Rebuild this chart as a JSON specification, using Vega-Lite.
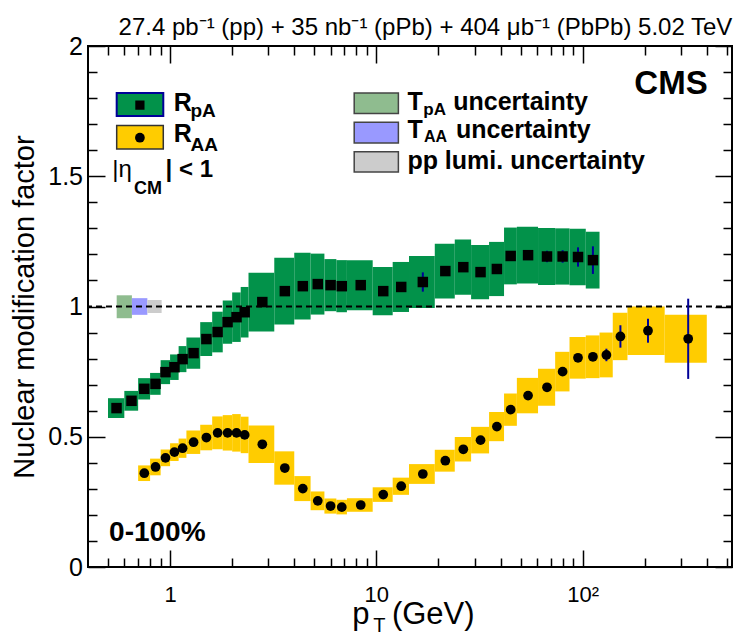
{
  "$schema": "https://vega.github.io/schema/vega-lite/v6.json",
  "width": 644,
  "height": 521,
  "autosize": {"type": "none"},
  "padding": {"left": 88, "top": 46, "right": 5, "bottom": 70},
  "background": "white",
  "config": {"view": {"stroke": "black", "strokeWidth": 2}, "font": "Liberation Sans"},
  "data": {"values": [{}]},
  "datasets": {
    "rpa": [
      {"ptLow": 0.5, "ptHigh": 0.6, "pt": 0.55, "R": 0.610, "sysLow": 0.572, "sysHigh": 0.648, "statLow": 0.606, "statHigh": 0.614},
      {"ptLow": 0.6, "ptHigh": 0.7, "pt": 0.65, "R": 0.638, "sysLow": 0.600, "sysHigh": 0.676, "statLow": 0.634, "statHigh": 0.642},
      {"ptLow": 0.7, "ptHigh": 0.8, "pt": 0.75, "R": 0.684, "sysLow": 0.643, "sysHigh": 0.725, "statLow": 0.680, "statHigh": 0.688},
      {"ptLow": 0.8, "ptHigh": 0.9, "pt": 0.85, "R": 0.703, "sysLow": 0.661, "sysHigh": 0.745, "statLow": 0.699, "statHigh": 0.707},
      {"ptLow": 0.9, "ptHigh": 1.0, "pt": 0.95, "R": 0.748, "sysLow": 0.702, "sysHigh": 0.794, "statLow": 0.744, "statHigh": 0.752},
      {"ptLow": 1.0, "ptHigh": 1.1, "pt": 1.05, "R": 0.767, "sysLow": 0.718, "sysHigh": 0.816, "statLow": 0.763, "statHigh": 0.771},
      {"ptLow": 1.1, "ptHigh": 1.2, "pt": 1.15, "R": 0.798, "sysLow": 0.748, "sysHigh": 0.848, "statLow": 0.794, "statHigh": 0.802},
      {"ptLow": 1.2, "ptHigh": 1.4, "pt": 1.3, "R": 0.821, "sysLow": 0.761, "sysHigh": 0.881, "statLow": 0.817, "statHigh": 0.825},
      {"ptLow": 1.4, "ptHigh": 1.6, "pt": 1.5, "R": 0.875, "sysLow": 0.810, "sysHigh": 0.940, "statLow": 0.871, "statHigh": 0.879},
      {"ptLow": 1.6, "ptHigh": 1.8, "pt": 1.7, "R": 0.902, "sysLow": 0.824, "sysHigh": 0.980, "statLow": 0.898, "statHigh": 0.906},
      {"ptLow": 1.8, "ptHigh": 2.0, "pt": 1.9, "R": 0.940, "sysLow": 0.857, "sysHigh": 1.023, "statLow": 0.936, "statHigh": 0.944},
      {"ptLow": 2.0, "ptHigh": 2.2, "pt": 2.1, "R": 0.959, "sysLow": 0.864, "sysHigh": 1.054, "statLow": 0.955, "statHigh": 0.963},
      {"ptLow": 2.2, "ptHigh": 2.4, "pt": 2.3, "R": 0.978, "sysLow": 0.881, "sysHigh": 1.075, "statLow": 0.974, "statHigh": 0.982},
      {"ptLow": 2.4, "ptHigh": 3.2, "pt": 2.8, "R": 1.017, "sysLow": 0.904, "sysHigh": 1.130, "statLow": 1.013, "statHigh": 1.021},
      {"ptLow": 3.2, "ptHigh": 4.0, "pt": 3.6, "R": 1.059, "sysLow": 0.931, "sysHigh": 1.187, "statLow": 1.054, "statHigh": 1.064},
      {"ptLow": 4.0, "ptHigh": 4.8, "pt": 4.4, "R": 1.078, "sysLow": 0.950, "sysHigh": 1.206, "statLow": 1.073, "statHigh": 1.083},
      {"ptLow": 4.8, "ptHigh": 5.6, "pt": 5.2, "R": 1.086, "sysLow": 0.969, "sysHigh": 1.203, "statLow": 1.081, "statHigh": 1.091},
      {"ptLow": 5.6, "ptHigh": 6.4, "pt": 6.0, "R": 1.082, "sysLow": 0.982, "sysHigh": 1.182, "statLow": 1.077, "statHigh": 1.087},
      {"ptLow": 6.4, "ptHigh": 7.2, "pt": 6.8, "R": 1.078, "sysLow": 0.978, "sysHigh": 1.178, "statLow": 1.073, "statHigh": 1.083},
      {"ptLow": 7.2, "ptHigh": 9.6, "pt": 8.4, "R": 1.082, "sysLow": 0.986, "sysHigh": 1.178, "statLow": 1.077, "statHigh": 1.087},
      {"ptLow": 9.6, "ptHigh": 12.0, "pt": 10.8, "R": 1.059, "sysLow": 0.966, "sysHigh": 1.152, "statLow": 1.053, "statHigh": 1.065},
      {"ptLow": 12.0, "ptHigh": 14.4, "pt": 13.2, "R": 1.075, "sysLow": 0.979, "sysHigh": 1.171, "statLow": 1.067, "statHigh": 1.083},
      {"ptLow": 14.4, "ptHigh": 19.2, "pt": 16.8, "R": 1.094, "sysLow": 0.994, "sysHigh": 1.194, "statLow": 1.057, "statHigh": 1.131},
      {"ptLow": 19.2, "ptHigh": 24.0, "pt": 21.6, "R": 1.136, "sysLow": 1.031, "sysHigh": 1.241, "statLow": 1.128, "statHigh": 1.144},
      {"ptLow": 24.0, "ptHigh": 28.8, "pt": 26.4, "R": 1.151, "sysLow": 1.045, "sysHigh": 1.257, "statLow": 1.143, "statHigh": 1.159},
      {"ptLow": 28.8, "ptHigh": 35.2, "pt": 32.0, "R": 1.132, "sysLow": 1.028, "sysHigh": 1.236, "statLow": 1.124, "statHigh": 1.140},
      {"ptLow": 35.2, "ptHigh": 41.6, "pt": 38.4, "R": 1.144, "sysLow": 1.040, "sysHigh": 1.248, "statLow": 1.136, "statHigh": 1.152},
      {"ptLow": 41.6, "ptHigh": 48.0, "pt": 44.8, "R": 1.194, "sysLow": 1.085, "sysHigh": 1.303, "statLow": 1.186, "statHigh": 1.202},
      {"ptLow": 48.0, "ptHigh": 60.8, "pt": 54.4, "R": 1.197, "sysLow": 1.088, "sysHigh": 1.306, "statLow": 1.187, "statHigh": 1.207},
      {"ptLow": 60.8, "ptHigh": 73.6, "pt": 67.2, "R": 1.192, "sysLow": 1.083, "sysHigh": 1.301, "statLow": 1.170, "statHigh": 1.214},
      {"ptLow": 73.6, "ptHigh": 86.4, "pt": 80.0, "R": 1.192, "sysLow": 1.084, "sysHigh": 1.300, "statLow": 1.168, "statHigh": 1.216},
      {"ptLow": 86.4, "ptHigh": 103.6, "pt": 95.0, "R": 1.190, "sysLow": 1.082, "sysHigh": 1.298, "statLow": 1.153, "statHigh": 1.227},
      {"ptLow": 103.6, "ptHigh": 120.8, "pt": 112.2, "R": 1.178, "sysLow": 1.069, "sysHigh": 1.287, "statLow": 1.125, "statHigh": 1.231}
    ],
    "raa": [
      {"ptLow": 0.7, "ptHigh": 0.8, "pt": 0.75, "R": 0.360, "sysLow": 0.330, "sysHigh": 0.390, "statLow": 0.356, "statHigh": 0.364},
      {"ptLow": 0.8, "ptHigh": 0.9, "pt": 0.85, "R": 0.384, "sysLow": 0.352, "sysHigh": 0.416, "statLow": 0.380, "statHigh": 0.388},
      {"ptLow": 0.9, "ptHigh": 1.0, "pt": 0.95, "R": 0.419, "sysLow": 0.387, "sysHigh": 0.451, "statLow": 0.415, "statHigh": 0.423},
      {"ptLow": 1.0, "ptHigh": 1.1, "pt": 1.05, "R": 0.441, "sysLow": 0.407, "sysHigh": 0.475, "statLow": 0.437, "statHigh": 0.445},
      {"ptLow": 1.1, "ptHigh": 1.2, "pt": 1.15, "R": 0.456, "sysLow": 0.419, "sysHigh": 0.493, "statLow": 0.452, "statHigh": 0.460},
      {"ptLow": 1.2, "ptHigh": 1.4, "pt": 1.3, "R": 0.479, "sysLow": 0.434, "sysHigh": 0.524, "statLow": 0.475, "statHigh": 0.483},
      {"ptLow": 1.4, "ptHigh": 1.6, "pt": 1.5, "R": 0.497, "sysLow": 0.448, "sysHigh": 0.546, "statLow": 0.493, "statHigh": 0.501},
      {"ptLow": 1.6, "ptHigh": 1.8, "pt": 1.7, "R": 0.515, "sysLow": 0.452, "sysHigh": 0.578, "statLow": 0.511, "statHigh": 0.519},
      {"ptLow": 1.8, "ptHigh": 2.0, "pt": 1.9, "R": 0.515, "sysLow": 0.447, "sysHigh": 0.583, "statLow": 0.511, "statHigh": 0.519},
      {"ptLow": 2.0, "ptHigh": 2.2, "pt": 2.1, "R": 0.515, "sysLow": 0.443, "sysHigh": 0.587, "statLow": 0.511, "statHigh": 0.519},
      {"ptLow": 2.2, "ptHigh": 2.4, "pt": 2.3, "R": 0.507, "sysLow": 0.437, "sysHigh": 0.577, "statLow": 0.503, "statHigh": 0.511},
      {"ptLow": 2.4, "ptHigh": 3.2, "pt": 2.8, "R": 0.471, "sysLow": 0.399, "sysHigh": 0.543, "statLow": 0.467, "statHigh": 0.475},
      {"ptLow": 3.2, "ptHigh": 4.0, "pt": 3.6, "R": 0.380, "sysLow": 0.316, "sysHigh": 0.444, "statLow": 0.376, "statHigh": 0.384},
      {"ptLow": 4.0, "ptHigh": 4.8, "pt": 4.4, "R": 0.301, "sysLow": 0.253, "sysHigh": 0.349, "statLow": 0.297, "statHigh": 0.305},
      {"ptLow": 4.8, "ptHigh": 5.6, "pt": 5.2, "R": 0.254, "sysLow": 0.218, "sysHigh": 0.290, "statLow": 0.250, "statHigh": 0.258},
      {"ptLow": 5.6, "ptHigh": 6.4, "pt": 6.0, "R": 0.234, "sysLow": 0.205, "sysHigh": 0.263, "statLow": 0.230, "statHigh": 0.238},
      {"ptLow": 6.4, "ptHigh": 7.2, "pt": 6.8, "R": 0.230, "sysLow": 0.202, "sysHigh": 0.258, "statLow": 0.226, "statHigh": 0.234},
      {"ptLow": 7.2, "ptHigh": 9.6, "pt": 8.4, "R": 0.238, "sysLow": 0.212, "sysHigh": 0.264, "statLow": 0.234, "statHigh": 0.242},
      {"ptLow": 9.6, "ptHigh": 12.0, "pt": 10.8, "R": 0.278, "sysLow": 0.250, "sysHigh": 0.306, "statLow": 0.274, "statHigh": 0.282},
      {"ptLow": 12.0, "ptHigh": 14.4, "pt": 13.2, "R": 0.310, "sysLow": 0.277, "sysHigh": 0.343, "statLow": 0.306, "statHigh": 0.314},
      {"ptLow": 14.4, "ptHigh": 19.2, "pt": 16.8, "R": 0.357, "sysLow": 0.319, "sysHigh": 0.395, "statLow": 0.353, "statHigh": 0.361},
      {"ptLow": 19.2, "ptHigh": 24.0, "pt": 21.6, "R": 0.408, "sysLow": 0.366, "sysHigh": 0.450, "statLow": 0.404, "statHigh": 0.412},
      {"ptLow": 24.0, "ptHigh": 28.8, "pt": 26.4, "R": 0.452, "sysLow": 0.405, "sysHigh": 0.499, "statLow": 0.448, "statHigh": 0.456},
      {"ptLow": 28.8, "ptHigh": 35.2, "pt": 32.0, "R": 0.487, "sysLow": 0.436, "sysHigh": 0.538, "statLow": 0.483, "statHigh": 0.491},
      {"ptLow": 35.2, "ptHigh": 41.6, "pt": 38.4, "R": 0.539, "sysLow": 0.483, "sysHigh": 0.595, "statLow": 0.535, "statHigh": 0.543},
      {"ptLow": 41.6, "ptHigh": 48.0, "pt": 44.8, "R": 0.604, "sysLow": 0.542, "sysHigh": 0.666, "statLow": 0.600, "statHigh": 0.608},
      {"ptLow": 48.0, "ptHigh": 60.8, "pt": 54.4, "R": 0.658, "sysLow": 0.590, "sysHigh": 0.726, "statLow": 0.654, "statHigh": 0.662},
      {"ptLow": 60.8, "ptHigh": 73.6, "pt": 67.2, "R": 0.690, "sysLow": 0.619, "sysHigh": 0.761, "statLow": 0.685, "statHigh": 0.695},
      {"ptLow": 73.6, "ptHigh": 86.4, "pt": 80.0, "R": 0.750, "sysLow": 0.674, "sysHigh": 0.826, "statLow": 0.745, "statHigh": 0.755},
      {"ptLow": 86.4, "ptHigh": 103.6, "pt": 95.0, "R": 0.803, "sysLow": 0.723, "sysHigh": 0.883, "statLow": 0.797, "statHigh": 0.809},
      {"ptLow": 103.6, "ptHigh": 120.8, "pt": 112.2, "R": 0.807, "sysLow": 0.725, "sysHigh": 0.889, "statLow": 0.797, "statHigh": 0.817},
      {"ptLow": 120.8, "ptHigh": 140.0, "pt": 130.4, "R": 0.814, "sysLow": 0.728, "sysHigh": 0.900, "statLow": 0.790, "statHigh": 0.838},
      {"ptLow": 140.0, "ptHigh": 165.0, "pt": 152.5, "R": 0.885, "sysLow": 0.794, "sysHigh": 0.976, "statLow": 0.842, "statHigh": 0.928},
      {"ptLow": 165.0, "ptHigh": 250.0, "pt": 207.5, "R": 0.907, "sysLow": 0.814, "sysHigh": 1.000, "statLow": 0.861, "statHigh": 0.953},
      {"ptLow": 250.0, "ptHigh": 400.0, "pt": 325.0, "R": 0.876, "sysLow": 0.784, "sysHigh": 0.968, "statLow": 0.722, "statHigh": 1.030}
    ],
    "norm": [
      {"source": "TpA", "ptLow": 0.551, "ptHigh": 0.653, "low": 0.955, "high": 1.043},
      {"source": "TAA", "ptLow": 0.653, "ptHigh": 0.776, "low": 0.968, "high": 1.032},
      {"source": "lumi", "ptLow": 0.776, "ptHigh": 0.910, "low": 0.975, "high": 1.025}
    ]
  },
  "resolve": {"axis": {"x": "independent", "y": "independent"}},
  "layer": [
    {
      "data": {"name": "rpa"},
      "mark": {"type": "rect", "color": "#02924A"},
      "encoding": {
        "x": {"field": "ptLow", "type": "quantitative",
          "scale": {"type": "log", "domain": [0.4, 530], "nice": false},
          "axis": {"orient": "bottom", "title": null, "domain": false, "grid": false,
            "values": [0.5, 0.6, 0.7, 0.8, 0.9, 1, 2, 3, 4, 5, 6, 7, 8, 9, 10, 20, 30, 40, 50, 60, 70, 80, 90, 100, 200, 300, 400, 500],
            "tickSize": {"condition": {"test": "datum.value == 1 || datum.value == 10 || datum.value == 100", "value": -17}, "value": -9},
            "tickColor": "black", "tickWidth": 1.5,
            "labelExpr": "datum.value == 1 ? '1' : datum.value == 10 ? '10' : datum.value == 100 ? '10²' : ''",
            "labelFont": "Liberation Sans", "labelFontSize": 22, "labelColor": "black", "labelPadding": 34, "labelBaseline": "top", "labelFlush": false, "labelOverlap": false, "labelAngle": 0}},
        "x2": {"field": "ptHigh"},
        "y": {"field": "sysLow", "type": "quantitative",
          "scale": {"domain": [0, 2], "nice": false, "zero": false},
          "axis": {"orient": "left", "title": "Nuclear modification factor", "domain": false, "grid": false,
            "values": [0, 0.1, 0.2, 0.3, 0.4, 0.5, 0.6, 0.7, 0.8, 0.9, 1, 1.1, 1.2, 1.3, 1.4, 1.5, 1.6, 1.7, 1.8, 1.9, 2],
            "tickSize": {"condition": {"test": "datum.value == 0 || datum.value == 0.5 || datum.value == 1 || datum.value == 1.5 || datum.value == 2", "value": -17}, "value": -9},
            "tickColor": "black", "tickWidth": 1.5,
            "format": "~g",
            "labelExpr": "datum.value == 0 || datum.value == 0.5 || datum.value == 1 || datum.value == 1.5 || datum.value == 2 ? datum.label : ''",
            "labelFont": "Liberation Sans", "labelFontSize": 25, "labelColor": "black", "labelPadding": 22.5, "labelFlush": false, "labelOverlap": false,
            "titleFont": "Liberation Sans", "titleFontSize": 29, "titleFontWeight": "normal", "titleColor": "black",
            "titleX": -55, "titleY": 260.5, "titleAngle": -90, "titleBaseline": "alphabetic", "titleAlign": "center"}},
        "y2": {"field": "sysHigh"}
      }
    },
    {
      "data": {"name": "raa"},
      "mark": {"type": "rect", "color": "#FFCC00"},
      "encoding": {
        "x": {"field": "ptLow", "type": "quantitative",
          "axis": {"orient": "top", "title": null, "domain": false, "grid": false, "labels": false,
            "values": [0.5, 0.6, 0.7, 0.8, 0.9, 1, 2, 3, 4, 5, 6, 7, 8, 9, 10, 20, 30, 40, 50, 60, 70, 80, 90, 100, 200, 300, 400, 500],
            "tickSize": {"condition": {"test": "datum.value == 1 || datum.value == 10 || datum.value == 100", "value": -17}, "value": -9},
            "tickColor": "black", "tickWidth": 1.5}},
        "x2": {"field": "ptHigh"},
        "y": {"field": "sysLow", "type": "quantitative",
          "axis": {"orient": "right", "title": null, "domain": false, "grid": false, "labels": false,
            "values": [0, 0.1, 0.2, 0.3, 0.4, 0.5, 0.6, 0.7, 0.8, 0.9, 1, 1.1, 1.2, 1.3, 1.4, 1.5, 1.6, 1.7, 1.8, 1.9, 2],
            "tickSize": {"condition": {"test": "datum.value == 0 || datum.value == 0.5 || datum.value == 1 || datum.value == 1.5 || datum.value == 2", "value": -17}, "value": -9},
            "tickColor": "black", "tickWidth": 1.5}},
        "y2": {"field": "sysHigh"}
      }
    },
    {
      "data": {"name": "norm"},
      "mark": {"type": "rect"},
      "encoding": {
        "x": {"field": "ptLow", "type": "quantitative", "axis": null},
        "x2": {"field": "ptHigh"},
        "y": {"field": "low", "type": "quantitative", "axis": null},
        "y2": {"field": "high"},
        "color": {"field": "source", "type": "nominal", "legend": null,
          "scale": {"domain": ["TpA", "TAA", "lumi"], "range": ["#8FBC8F", "#9999FF", "#CCCCCC"]}}
      }
    },
    {
      "mark": {"type": "rule", "color": "black", "strokeWidth": 2, "strokeDash": [6, 4]},
      "encoding": {"y": {"datum": 1, "type": "quantitative", "axis": null}}
    },
    {
      "data": {"name": "rpa"},
      "mark": {"type": "rule", "color": "#000099", "strokeWidth": 2},
      "encoding": {
        "x": {"field": "pt", "type": "quantitative", "axis": null},
        "y": {"field": "statLow", "type": "quantitative", "axis": null},
        "y2": {"field": "statHigh"}
      }
    },
    {
      "data": {"name": "raa"},
      "mark": {"type": "rule", "color": "#000099", "strokeWidth": 2},
      "encoding": {
        "x": {"field": "pt", "type": "quantitative", "axis": null},
        "y": {"field": "statLow", "type": "quantitative", "axis": null},
        "y2": {"field": "statHigh"}
      }
    },
    {
      "data": {"name": "rpa"},
      "mark": {"type": "point", "shape": "square", "filled": true, "color": "black", "opacity": 1, "size": 110},
      "encoding": {
        "x": {"field": "pt", "type": "quantitative", "axis": null},
        "y": {"field": "R", "type": "quantitative", "axis": null}
      }
    },
    {
      "data": {"name": "raa"},
      "mark": {"type": "point", "shape": "circle", "filled": true, "color": "black", "opacity": 1, "size": 95},
      "encoding": {
        "x": {"field": "pt", "type": "quantitative", "axis": null},
        "y": {"field": "R", "type": "quantitative", "axis": null}
      }
    },
    {
      "mark": {"type": "rect", "fill": "#02924A", "stroke": "#000099", "strokeWidth": 2},
      "encoding": {
        "x": {"datum": 0.551, "type": "quantitative", "axis": null}, "x2": {"datum": 0.927},
        "y": {"datum": 1.731, "type": "quantitative", "axis": null}, "y2": {"datum": 1.820}
      }
    },
    {
      "mark": {"type": "rect", "fill": "#FFCC00", "stroke": "#333333", "strokeWidth": 1.5},
      "encoding": {
        "x": {"datum": 0.551, "type": "quantitative", "axis": null}, "x2": {"datum": 0.927},
        "y": {"datum": 1.605, "type": "quantitative", "axis": null}, "y2": {"datum": 1.695}
      }
    },
    {
      "mark": {"type": "point", "shape": "square", "filled": true, "color": "black", "opacity": 1, "size": 85},
      "encoding": {
        "x": {"datum": 0.714, "type": "quantitative", "axis": null},
        "y": {"datum": 1.773, "type": "quantitative", "axis": null}
      }
    },
    {
      "mark": {"type": "point", "shape": "circle", "filled": true, "color": "black", "opacity": 1, "size": 95},
      "encoding": {
        "x": {"datum": 0.714, "type": "quantitative", "axis": null},
        "y": {"datum": 1.648, "type": "quantitative", "axis": null}
      }
    },
    {
      "mark": {"type": "rect", "fill": "#8FBC8F", "stroke": "#444444", "strokeWidth": 1.5},
      "encoding": {
        "x": {"datum": 7.81, "type": "quantitative", "axis": null}, "x2": {"datum": 12.79},
        "y": {"datum": 1.741, "type": "quantitative", "axis": null}, "y2": {"datum": 1.820}
      }
    },
    {
      "mark": {"type": "rect", "fill": "#9999FF", "stroke": "#444444", "strokeWidth": 1.5},
      "encoding": {
        "x": {"datum": 7.81, "type": "quantitative", "axis": null}, "x2": {"datum": 12.79},
        "y": {"datum": 1.628, "type": "quantitative", "axis": null}, "y2": {"datum": 1.707}
      }
    },
    {
      "mark": {"type": "rect", "fill": "#CCCCCC", "stroke": "#444444", "strokeWidth": 1.5},
      "encoding": {
        "x": {"datum": 7.81, "type": "quantitative", "axis": null}, "x2": {"datum": 12.79},
        "y": {"datum": 1.516, "type": "quantitative", "axis": null}, "y2": {"datum": 1.594}
      }
    },
    {
      "mark": {"type": "text", "text": "27.4 pb⁻¹ (pp) + 35 nb⁻¹ (pPb) + 404 μb⁻¹ (PbPb) 5.02 TeV", "align": "right", "baseline": "alphabetic", "font": "Liberation Sans", "fontWeight": "normal", "fontSize": 24, "color": "black"},
      "encoding": {"x": {"datum": 532, "type": "quantitative", "axis": null}, "y": {"datum": 2.044, "type": "quantitative", "axis": null}}
    },
    {
      "mark": {"type": "text", "text": "CMS", "align": "right", "baseline": "alphabetic", "font": "Liberation Sans", "fontWeight": "bold", "fontSize": 33, "color": "black"},
      "encoding": {"x": {"datum": 404, "type": "quantitative", "axis": null}, "y": {"datum": 1.814, "type": "quantitative", "axis": null}}
    },
    {
      "mark": {"type": "text", "text": "0-100%", "align": "left", "baseline": "alphabetic", "font": "Liberation Sans", "fontWeight": "bold", "fontSize": 28, "color": "black"},
      "encoding": {"x": {"datum": 0.506, "type": "quantitative", "axis": null}, "y": {"datum": 0.099, "type": "quantitative", "axis": null}}
    },
    {
      "mark": {"type": "text", "text": "R", "align": "left", "baseline": "alphabetic", "font": "Liberation Sans", "fontWeight": "bold", "fontSize": 25, "color": "black"},
      "encoding": {"x": {"datum": 1.043, "type": "quantitative", "axis": null}, "y": {"datum": 1.750, "type": "quantitative", "axis": null}}
    },
    {
      "mark": {"type": "text", "text": "pA", "align": "left", "baseline": "alphabetic", "font": "Liberation Sans", "fontWeight": "bold", "fontSize": 19, "color": "black"},
      "encoding": {"x": {"datum": 1.256, "type": "quantitative", "axis": null}, "y": {"datum": 1.728, "type": "quantitative", "axis": null}}
    },
    {
      "mark": {"type": "text", "text": "R", "align": "left", "baseline": "alphabetic", "font": "Liberation Sans", "fontWeight": "bold", "fontSize": 25, "color": "black"},
      "encoding": {"x": {"datum": 1.043, "type": "quantitative", "axis": null}, "y": {"datum": 1.631, "type": "quantitative", "axis": null}}
    },
    {
      "mark": {"type": "text", "text": "AA", "align": "left", "baseline": "alphabetic", "font": "Liberation Sans", "fontWeight": "bold", "fontSize": 19, "color": "black"},
      "encoding": {"x": {"datum": 1.256, "type": "quantitative", "axis": null}, "y": {"datum": 1.596, "type": "quantitative", "axis": null}}
    },
    {
      "mark": {"type": "text", "text": "|η", "align": "left", "baseline": "alphabetic", "font": "Liberation Sans", "fontWeight": "normal", "fontSize": 24, "color": "black"},
      "encoding": {"x": {"datum": 0.525, "type": "quantitative", "axis": null}, "y": {"datum": 1.497, "type": "quantitative", "axis": null}}
    },
    {
      "mark": {"type": "text", "text": "CM", "align": "left", "baseline": "alphabetic", "font": "Liberation Sans", "fontWeight": "bold", "fontSize": 18, "color": "black"},
      "encoding": {"x": {"datum": 0.668, "type": "quantitative", "axis": null}, "y": {"datum": 1.430, "type": "quantitative", "axis": null}}
    },
    {
      "mark": {"type": "text", "text": "| < 1", "align": "left", "baseline": "alphabetic", "font": "Liberation Sans", "fontWeight": "bold", "fontSize": 24, "color": "black"},
      "encoding": {"x": {"datum": 0.951, "type": "quantitative", "axis": null}, "y": {"datum": 1.497, "type": "quantitative", "axis": null}}
    },
    {
      "mark": {"type": "text", "text": "T", "align": "left", "baseline": "alphabetic", "font": "Liberation Sans", "fontWeight": "bold", "fontSize": 25, "color": "black"},
      "encoding": {"x": {"datum": 14.14, "type": "quantitative", "axis": null}, "y": {"datum": 1.754, "type": "quantitative", "axis": null}}
    },
    {
      "mark": {"type": "text", "text": "pA", "align": "left", "baseline": "alphabetic", "font": "Liberation Sans", "fontWeight": "bold", "fontSize": 17, "color": "black"},
      "encoding": {"x": {"datum": 16.9, "type": "quantitative", "axis": null}, "y": {"datum": 1.736, "type": "quantitative", "axis": null}}
    },
    {
      "mark": {"type": "text", "text": "uncertainty", "align": "left", "baseline": "alphabetic", "font": "Liberation Sans", "fontWeight": "bold", "fontSize": 25, "color": "black"},
      "encoding": {"x": {"datum": 23.6, "type": "quantitative", "axis": null}, "y": {"datum": 1.754, "type": "quantitative", "axis": null}}
    },
    {
      "mark": {"type": "text", "text": "T", "align": "left", "baseline": "alphabetic", "font": "Liberation Sans", "fontWeight": "bold", "fontSize": 25, "color": "black"},
      "encoding": {"x": {"datum": 14.14, "type": "quantitative", "axis": null}, "y": {"datum": 1.645, "type": "quantitative", "axis": null}}
    },
    {
      "mark": {"type": "text", "text": "AA", "align": "left", "baseline": "alphabetic", "font": "Liberation Sans", "fontWeight": "bold", "fontSize": 16, "color": "black"},
      "encoding": {"x": {"datum": 17.03, "type": "quantitative", "axis": null}, "y": {"datum": 1.631, "type": "quantitative", "axis": null}}
    },
    {
      "mark": {"type": "text", "text": "uncertainty", "align": "left", "baseline": "alphabetic", "font": "Liberation Sans", "fontWeight": "bold", "fontSize": 25, "color": "black"},
      "encoding": {"x": {"datum": 24.3, "type": "quantitative", "axis": null}, "y": {"datum": 1.645, "type": "quantitative", "axis": null}}
    },
    {
      "mark": {"type": "text", "text": "pp lumi. uncertainty", "align": "left", "baseline": "alphabetic", "font": "Liberation Sans", "fontWeight": "bold", "fontSize": 25, "color": "black"},
      "encoding": {"x": {"datum": 14.14, "type": "quantitative", "axis": null}, "y": {"datum": 1.529, "type": "quantitative", "axis": null}}
    },
    {
      "mark": {"type": "text", "text": "p", "align": "left", "baseline": "alphabetic", "font": "Liberation Sans", "fontWeight": "normal", "fontSize": 31, "color": "black"},
      "encoding": {"x": {"datum": 7.64, "type": "quantitative", "axis": null}, "y": {"datum": -0.217, "type": "quantitative", "axis": null}}
    },
    {
      "mark": {"type": "text", "text": "T", "align": "left", "baseline": "alphabetic", "font": "Liberation Sans", "fontWeight": "normal", "fontSize": 20, "color": "black"},
      "encoding": {"x": {"datum": 9.65, "type": "quantitative", "axis": null}, "y": {"datum": -0.248, "type": "quantitative", "axis": null}}
    },
    {
      "mark": {"type": "text", "text": "(GeV)", "align": "left", "baseline": "alphabetic", "font": "Liberation Sans", "fontWeight": "normal", "fontSize": 31, "color": "black"},
      "encoding": {"x": {"datum": 11.9, "type": "quantitative", "axis": null}, "y": {"datum": -0.217, "type": "quantitative", "axis": null}}
    }
  ]
}
